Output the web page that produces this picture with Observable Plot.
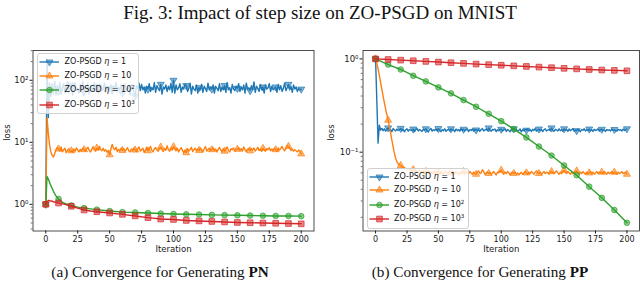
<!DOCTYPE html>
<html><head><meta charset="utf-8">
<script src="https://cdn.jsdelivr.net/npm/d3@7"></script>
<script src="https://cdn.jsdelivr.net/npm/@observablehq/plot@0.6"></script>
<style>
body{margin:0;background:#fff;}
#root{position:relative;width:640px;height:292px;overflow:hidden;font-family:"DejaVu Sans";background:#fff;}
.title{position:absolute;left:0;top:2px;width:640px;line-height:22px;text-align:center;font-family:"Liberation Serif";font-size:19px;color:#111;}
.cap{position:absolute;top:262px;width:320px;line-height:20px;text-align:center;font-family:"Liberation Serif";font-size:15.2px;color:#111;}
.panel{position:absolute;top:40px;}
.legend{position:absolute;box-sizing:border-box;border:1px solid #d0d0d0;border-radius:3px;background:rgba(255,255,255,0.8);}
.row{position:absolute;left:0;height:12px;width:100%;}
.row svg{position:absolute;left:1px;top:0;}
.row span{position:absolute;left:26.5px;top:0;line-height:12px;font-size:8px;color:#111;white-space:nowrap;}
.row sup{font-size:5.6px;vertical-align:3px;line-height:0;}
</style></head>
<body><div id="root"></div>
<script>
// ---------------- data ----------------
const titleText = "Fig. 3: Impact of step size on ZO-PSGD on MNIST";
const captions = ["(a) Convergence for Generating <b>PN</b>", "(b) Convergence for Generating <b>PP</b>"];
const etaText = ["1", "10", "10<sup>2</sup>", "10<sup>3</sup>"];
const colors = ["#1f77b4", "#ff7f0e", "#2ca02c", "#d62728"];
const xTicks = [0, 25, 50, 75, 100, 125, 150, 175, 200];
const yTicksPN = [1, 10, 100];
const yTickLabelsPN = ["10⁰", "10¹", "10²"];
const yTicksPP = [0.1, 1];
const yTickLabelsPP = ["10⁻¹", "10⁰"];

// (a) PN — eta=1 (every iteration 0..200)
const pnEta1 = [1,220,25,90,55,88,60,96,58,82,
66,92,60,76,88,62,80,94,64,72, 84,58,78,90,68,74,62,86,70,96,
64,78,70,88,60,82,74,66,92,70, 80,62,76,86,68,72,90,64,78,70,
74,84,60,80,72,92,66,76,70,86, 62,78,88,68,74,80,58,84,72,66,
56,82,74,90,68,86,70,78,62,80, 72,88,66,76,70,92,64,82,74,68,
86,60,78,72,84,66,80,70,90,64, 100,62,84,70,76,88,64,78,72,86,
82,66,74,90,60,80,72,68,84,62, 76,70,86,64,80,74,66,90,70,78,
72,84,62,80,74,68,88,66,78,70, 82,64,92,70,76,62,86,72,68,80,
74,88,66,78,70,84,62,90,72,76, 68,82,70,94,64,80,74,66,86,70,
78,62,84,72,76,88,66,80,70,74, 78,64,86,70,82,66,74,90,68,76,
86,70,80,64,84,72,78,66,74,70, 72];
// (a) PN — eta=10
const pnEta10 = [1,25,14,9,7,6.2,5.8,6.6,7.6,8.2,
7.8,7.2,8.4,7.0,7.6,8.0,6.8,7.4,7.9,7.1, 7.3,6.9,7.8,7.2,8.1,7.5,7.0,7.7,7.3,8.0,
7.6,7.2,7.9,8.3,7.4,7.0,7.7,8.5,7.8,7.2, 8.1,7.5,8.6,7.7,7.3,8.0,7.2,7.6,6.9,7.4,
6.3,7.8,9.2,8.0,7.6,8.3,7.1,7.7,7.3,8.0, 7.4,7.9,7.2,7.6,8.2,7.3,7.0,7.8,7.4,8.1,
7.5,7.1,7.8,8.4,7.2,7.6,8.0,6.9,7.5,8.3, 7.3,7.8,8.6,7.4,7.0,7.9,8.2,7.5,7.2,7.8,
8.4,7.6,7.1,8.0,7.4,8.8,7.6,7.2,8.1,7.5, 8.5,7.8,7.3,8.0,7.0,7.6,8.2,7.4,6.8,7.5,
6.8,7.9,7.2,7.7,8.3,7.1,7.6,8.0,7.3,7.8, 7.4,8.1,7.6,7.0,7.8,8.5,7.2,7.7,8.0,7.4,
7.6,8.2,7.3,7.8,7.0,7.7,8.3,7.5,7.1,7.9, 7.2,7.8,8.4,7.4,7.0,7.9,7.6,8.1,7.3,7.7,
7.7,8.2,7.4,7.9,7.2,8.4,7.6,7.1,7.8,8.0, 7.3,7.9,7.5,8.1,7.2,7.7,8.3,7.4,7.8,7.1,
8.0,7.5,7.2,7.9,7.6,8.2,7.3,7.8,7.4,8.0, 7.6,7.2,8.1,7.5,7.9,8.6,7.7,7.3,8.0,8.8,
8.6,8.0,7.4,7.8,7.2,7.6,7.3,7.0,7.5,7.1, 6.5];
// (a) PN — eta=10^2 and 10^3 (sampled iterations)
const pnEta100Iter = [0,1,2,3,4,5,6,7,8,9,10,12,15,20,25,30,40,50,60,70,80,90,100,110,120,130,140,150,160,170,180,190,200];
const pnEta100 = [1,2.8,2.55,2.25,2.0,1.8,1.62,1.48,1.37,1.29,1.22,1.12,1.03,0.96,0.9,0.87,0.82,0.78,0.75,0.74,0.725,0.71,0.70,0.69,0.685,0.675,0.67,0.665,0.66,0.655,0.65,0.65,0.645];
const pnEta1000Iter = [0,1,2,3,4,5,6,8,10,15,20,25,30,35,40,50,60,70,80,90,100,110,120,130,140,150,160,170,180,190,200];
const pnEta1000 = [1.0,1.1,1.15,1.15,1.13,1.12,1.1,1.08,1.05,1.0,0.93,0.87,0.81,0.78,0.76,0.725,0.69,0.65,0.61,0.58,0.57,0.55,0.54,0.53,0.52,0.51,0.505,0.5,0.495,0.49,0.485];

// (b) PP — eta=1 (x1000, every iteration)
const ppEta1 = [1000,354,125,195,172,180,170,178,168,176,
182,171,175,166,179,173,169,177,171,174, 180,170,176,165,174,178,168,175,172,170,
177,166,174,179,169,175,171,167,176,173, 178,170,165,175,180,168,174,171,177,169,
179,172,166,175,170,178,167,173,176,169, 178,171,174,166,177,170,175,168,179,172,
176,169,173,178,166,174,171,177,168,175, 173,170,176,167,175,179,169,172,177,170,
182,171,168,175,173,177,166,174,170,176, 176,169,173,178,167,175,171,166,174,179,
178,170,175,168,172,177,165,174,170,176, 172,178,169,174,167,176,171,179,168,173,
177,170,175,166,174,178,169,172,176,170, 182,171,167,176,173,169,178,170,174,168,
178,172,175,167,177,170,174,179,168,173, 170,176,171,166,175,172,178,169,174,171,
177,169,174,167,176,171,173,178,168,175, 176,170,173,167,175,171,174,169,177,172,
175,170,168,176,172,174,169,177,171,174, 178];
// (b) PP — eta=10 (x1000)
const ppEta10 = [1000,900,780,660,560,470,400,340,290,252,
220,188,160,134,113,97,86,79,75,73, 72,70,69,68,67,66,67,65,66,64,
65,63,64,62,63,64,61,62,63,60, 62,61,63,60,62,59,61,63,60,62,
61,59,62,60,58,61,63,59,60,62, 60,58,61,59,62,60,57,61,59,60,
62,58,60,61,59,62,60,58,61,59, 58,61,63,59,60,65,62,58,60,61,
59,61,58,60,62,59,57,61,60,62, 64,60,58,61,59,62,60,57,60,61,
59,61,58,60,57,59,61,58,60,62, 60,58,61,59,62,60,58,61,63,60,
59,61,58,60,62,59,61,60,58,61, 62,60,59,61,63,60,58,61,59,62,
64,61,59,62,60,58,61,59,60,62, 63,60,58,61,59,62,60,58,61,59,
60,62,59,61,58,60,62,59,61,60, 61,59,62,60,58,61,59,60,62,59,
61,60,58,61,59,60,62,59,60,61, 58];
// (b) PP — eta=10^2 and 10^3 (every 10 iterations)
const ppIter = [0,10,20,30,40,50,60,70,80,90,100,110,120,130,140,150,160,170,180,190,200];
const ppEta100 = [1.0,0.87,0.77,0.66,0.574,0.495,0.427,0.362,0.307,0.258,0.215,0.177,0.144,0.115,0.092,0.072,0.0566,0.0427,0.0324,0.024,0.0175];
const ppEta1000 = [1.0,0.985,0.97,0.955,0.94,0.925,0.91,0.895,0.88,0.868,0.855,0.842,0.83,0.817,0.805,0.792,0.781,0.77,0.76,0.753,0.745];

// ---------------- build ----------------
const iterAll = d3.range(0, 201);
const toRows = (xs, ys, k = 1) => xs.map((x, i) => ({x, y: ys[i] / k}));
const triangleDown = {
  draw(ctx, size) {
    const y = Math.sqrt(size / (Math.sqrt(3) * 3));
    ctx.moveTo(0, y * 2);
    ctx.lineTo(-Math.sqrt(3) * y, -y);
    ctx.lineTo(Math.sqrt(3) * y, -y);
    ctx.closePath();
  }
};
const symbols = [triangleDown, "triangle", "circle", "square"];
const radii = [2.6, 2.6, 2.8, 3.2];
const d3symbols = [null, d3.symbolTriangle, d3.symbolCircle, d3.symbolSquare];

function seriesMarks(rows, i) {
  return [
    Plot.line(rows, {x: "x", y: "y", stroke: colors[i], strokeWidth: 1.4}),
    Plot.dot(rows.filter(d => d.x % 10 === 0), {x: "x", y: "y", symbol: symbols[i], r: radii[i],
      fill: colors[i], fillOpacity: 0.55, stroke: colors[i], strokeOpacity: 0.7, strokeWidth: 1})
  ];
}

function minorTicks(lo, hi) {
  const out = [];
  for (let e = Math.floor(Math.log10(lo)); e <= Math.ceil(Math.log10(hi)); e++)
    for (let m = 2; m <= 9; m++) { const v = m * Math.pow(10, e); if (v >= lo && v <= hi) out.push(v); }
  return out;
}

function panel(series, yDomain, yTicks, yLabels, ml, mr, lossDx) {
  return Plot.plot({
    width: 320, height: 220,
    marginLeft: ml, marginRight: mr, marginTop: 10, marginBottom: 29.5,
    style: {background: "transparent", fontFamily: "DejaVu Sans", fontSize: "8px", color: "#1a1a1a"},
    x: {domain: [-10, 210]},
    y: {type: "log", domain: yDomain},
    marks: [
      ...series.flatMap((rows, i) => seriesMarks(rows, i)),
      Plot.frame({stroke: "#222", strokeWidth: 0.8}),
      Plot.axisX({ticks: xTicks, tickSize: 3, tickPadding: 2.5, fontSize: 8, label: null}),
      Plot.axisY(yTicks, {tickSize: 3, tickPadding: 1.5, fontSize: 8.5, label: null,
        tickFormat: v => yLabels[yTicks.indexOf(v)]}),
      Plot.axisY(minorTicks(yDomain[0], yDomain[1]), {tickSize: 1.8, strokeWidth: 0.6, tickFormat: () => "", label: null}),
      Plot.text(["loss"], {frameAnchor: "left", dx: lossDx, rotate: -90, fontSize: 8.5}),
      Plot.text(["Iteration"], {frameAnchor: "bottom", dy: 21, fontSize: 8.5})
    ]
  });
}

const root = document.getElementById("root");
const t = document.createElement("div"); t.className = "title"; t.textContent = titleText; root.appendChild(t);

const pnSeries = [toRows(iterAll, pnEta1), toRows(iterAll, pnEta10), toRows(pnEta100Iter, pnEta100), toRows(pnEta1000Iter, pnEta1000)];
const ppSeries = [toRows(iterAll, ppEta1, 1000), toRows(iterAll, ppEta10, 1000), toRows(ppIter, ppEta100), toRows(ppIter, ppEta1000)];

const p1 = panel(pnSeries, [Math.pow(10, -0.43), Math.pow(10, 2.48)], yTicksPN, yTickLabelsPN, 32.5, 6.5, -25.5);
const p2 = panel(ppSeries, [Math.pow(10, -1.845), Math.pow(10, 0.09)], yTicksPP, yTickLabelsPP, 42.5, 1, -31.5);
[p1, p2].forEach((p, i) => { const d = document.createElement("div"); d.className = "panel"; d.style.left = (i * 320) + "px"; d.appendChild(p); root.appendChild(d); });

function legend(left, top) {
  const box = document.createElement("div");
  box.className = "legend";
  Object.assign(box.style, {left: left + "px", top: top + "px", width: "102px", height: "61px"});
  const rowsY = [2, 15.5, 30, 44.5];
  etaText.forEach((txt, i) => {
    const r = document.createElement("div"); r.className = "row"; r.style.top = rowsY[i] + "px";
    const size = Math.PI * radii[i] * radii[i];
    const path = i === 0 ? (() => { const p = d3.path(); triangleDown.draw(p, size); return p.toString(); })()
                         : d3.symbol(d3symbols[i], size)();
    r.innerHTML = `<svg width="22" height="12"><line x1="0.5" x2="20" y1="6" y2="6" stroke="${colors[i]}" stroke-width="1.4"/>` +
      `<path transform="translate(10.5,6)" d="${path}" fill="${colors[i]}" fill-opacity="0.55" stroke="${colors[i]}" stroke-opacity="0.7"/></svg>` +
      `<span>ZO-PSGD <i>η</i> = ${txt}</span>`;
    box.appendChild(r);
  });
  root.appendChild(box);
}
legend(37, 53);
legend(366.5, 167.5);

captions.forEach((c, i) => { const d = document.createElement("div"); d.className = "cap"; d.style.left = (i * 320) + "px"; d.innerHTML = c; root.appendChild(d); });
</script></body></html>
